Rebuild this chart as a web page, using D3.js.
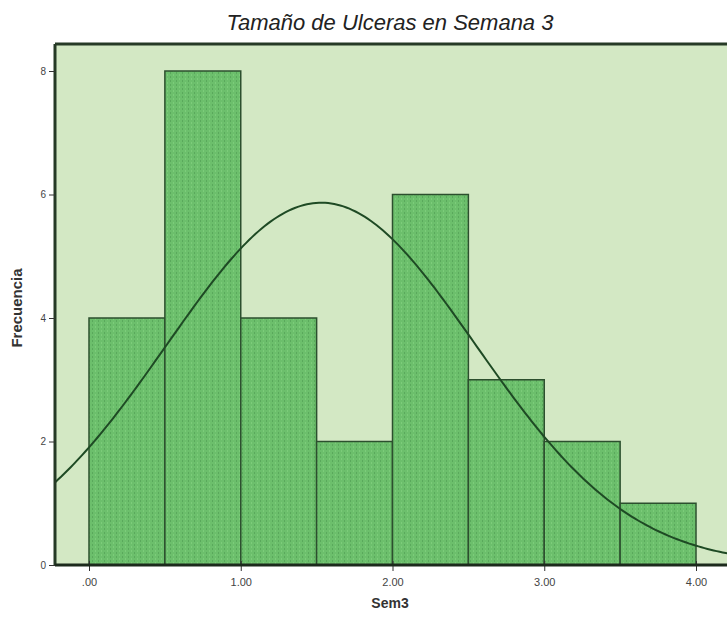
<!DOCTYPE html>
<html>
<head>
<meta charset="utf-8">
<script src="https://cdn.jsdelivr.net/npm/d3@7"></script>
<style>
  body { margin: 0; background: #fff; }
  svg { display: block; font-family: "Liberation Sans", Arial, sans-serif; }
</style>
</head>
<body>
<div class="canvas"></div>
<script>
// histogram bins (Sem3), width 0.5
const binStarts = [0, 0.5, 1, 1.5, 2, 2.5, 3, 3.5];
const binWidth = 0.5;
const counts = [4, 8, 4, 2, 6, 3, 2, 1];
const xTicks = [0, 1, 2, 3, 4];
const yTicks = [0, 2, 4, 6, 8];
// fitted normal curve parameters
const mean = 1.53;
const sd = 1.02;
const n = 30;

const width = 727, height = 618;
const margin = { top: 44, right: -4, bottom: 53, left: 55 };

const svg = d3.select('.canvas')
  .append('svg')
  .attr('width', width)
  .attr('height', height);

const x = d3.scaleLinear()
  .domain([0, 4])
  .range([89, 696]);

const y = d3.scaleLinear()
  .domain([0, 8])
  .range([565, 71]);

const plotL = margin.left, plotT = margin.top;
const plotR = width - margin.right, plotB = height - margin.bottom;

const defs = svg.append('defs');
const pat = defs.append('pattern')
  .attr('id', 'dots')
  .attr('patternUnits', 'userSpaceOnUse')
  .attr('width', 6)
  .attr('height', 4);
pat.append('rect').attr('width', 6).attr('height', 4).attr('fill', '#6cbf6c');
pat.append('rect').attr('x', 2).attr('y', 0).attr('width', 1).attr('height', 2).attr('fill', '#5aa95c');
pat.append('rect').attr('x', 5).attr('y', 2).attr('width', 1).attr('height', 2).attr('fill', '#7ccc7a');

svg.append('rect')
  .attr('x', plotL)
  .attr('y', plotT)
  .attr('width', plotR - plotL)
  .attr('height', plotB - plotT)
  .attr('fill', '#d3e8c4');

svg.append('g')
  .selectAll('rect')
  .data(counts)
  .join('rect')
  .attr('x', (d, i) => x(binStarts[i]))
  .attr('y', d => y(d))
  .attr('width', (d, i) => x(binStarts[i] + binWidth) - x(binStarts[i]))
  .attr('height', d => y(0) - y(d))
  .attr('fill', 'url(#dots)')
  .attr('stroke', '#2c4f2e')
  .attr('stroke-width', 1.5);

// normal curve scaled to counts
const xs = d3.range(x.invert(plotL), x.invert(plotR) + 0.01, 0.02);
const dens = v => n * binWidth * Math.exp(-0.5 * ((v - mean) / sd) ** 2) / (sd * Math.sqrt(2 * Math.PI));

svg.append('path')
  .datum(xs)
  .attr('fill', 'none')
  .attr('stroke', '#1e4a24')
  .attr('stroke-width', 2)
  .attr('d', d3.line().x(d => x(d)).y(d => y(dens(d))));

// frame
svg.append('line').attr('x1', plotL).attr('x2', plotR).attr('y1', plotT).attr('y2', plotT)
  .attr('stroke', '#263a26').attr('stroke-width', 3);
svg.append('line').attr('x1', plotL).attr('x2', plotL).attr('y1', plotT).attr('y2', plotB)
  .attr('stroke', '#263a26').attr('stroke-width', 3);

const xAxis = svg.append('g')
  .attr('transform', `translate(0, ${y(0)})`)
  .call(d3.axisBottom(x).tickValues(xTicks).tickSize(6).tickSizeOuter(0).tickFormat(d => d3.format('.2f')(d).replace(/^0/, '')));
xAxis.select('.domain').remove();
xAxis.append('line').attr('x1', plotL).attr('x2', plotR).attr('stroke', '#1c2a1c').attr('stroke-width', 3);
xAxis.selectAll('.tick line').attr('stroke', '#333').attr('y1', -4);
xAxis.selectAll('text').attr('font-size', 11).attr('fill', '#444').attr('dy', '1.1em');

const yAxis = svg.append('g')
  .attr('transform', `translate(${plotL}, 0)`)
  .call(d3.axisLeft(y).tickValues(yTicks).tickSize(6).tickSizeOuter(0));
yAxis.select('.domain').remove();
yAxis.selectAll('.tick line').attr('stroke', '#333');
yAxis.selectAll('text').attr('font-size', 10).attr('fill', '#444').attr('x', -9);

svg.append('text')
  .attr('x', 390)
  .attr('y', 30)
  .attr('text-anchor', 'middle')
  .attr('font-size', 22)
  .attr('font-style', 'italic')
  .attr('fill', '#222')
  .text('Tamaño de Ulceras en Semana 3');

svg.append('text')
  .attr('x', 390)
  .attr('y', 608)
  .attr('text-anchor', 'middle')
  .attr('font-size', 14)
  .attr('font-weight', 'bold')
  .attr('fill', '#333')
  .text('Sem3');

svg.append('text')
  .attr('transform', `translate(22, 308) rotate(-90)`)
  .attr('text-anchor', 'middle')
  .attr('font-size', 15)
  .attr('font-weight', 'bold')
  .attr('fill', '#333')
  .text('Frecuencia');
</script>
</body>
</html>
